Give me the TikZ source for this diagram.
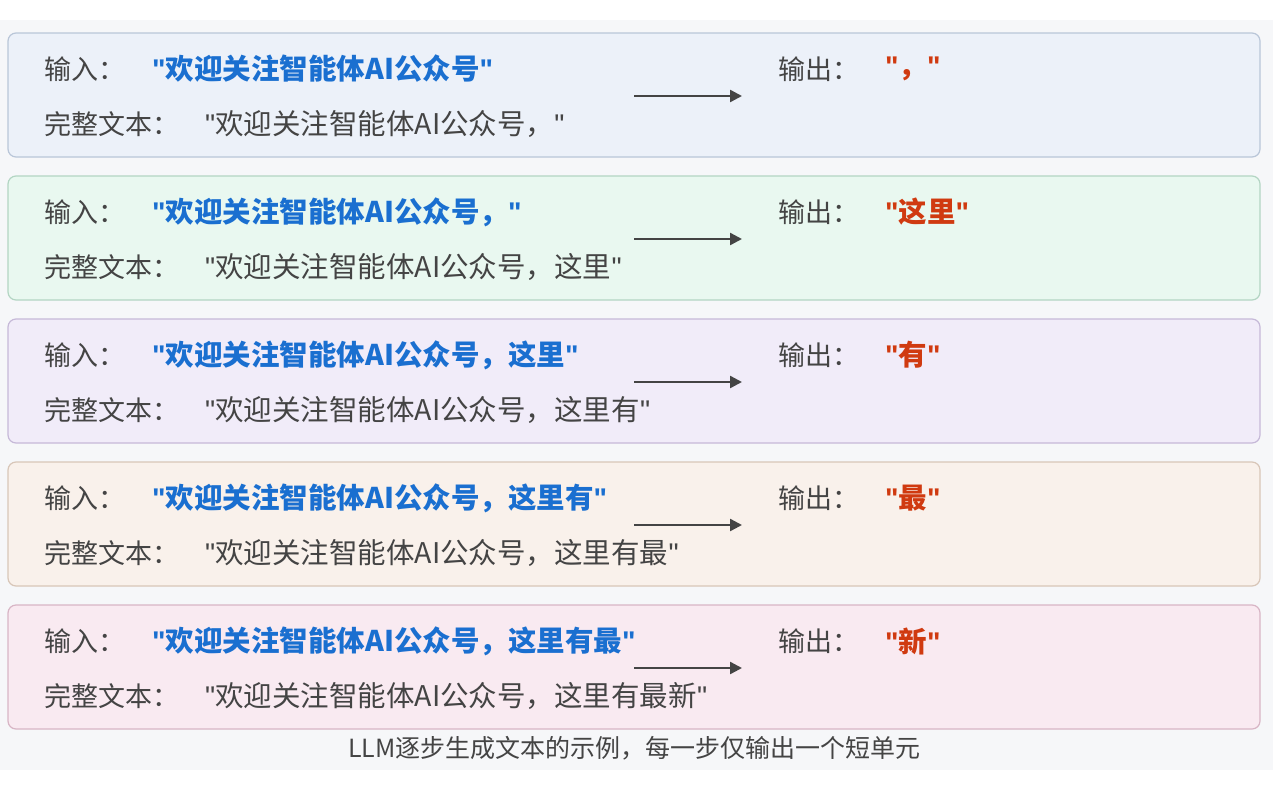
\documentclass[tikz,border=0pt]{standalone}
\usepackage{fontspec}
\setmainfont{Noto Sans CJK SC}
\newfontfamily\lat{Liberation Sans}
\newcommand{\qq}{{\lat"}}
\usetikzlibrary{arrows.meta}
\definecolor{tgray}{HTML}{444444}
\definecolor{tblue}{HTML}{1A6FD0}
\definecolor{tred}{HTML}{D03A10}
\definecolor{bgg}{HTML}{F6F7F9}
\tikzset{
  x=1pt,y=-1pt,
  box/.style={draw=#1!80!gray, line width=1.2pt, rounded corners=8pt, fill=#1!35!white},
  lab/.style={anchor=west, text=tgray, font=\fontsize{27}{29}\selectfont, inner sep=0pt},
  inval/.style={anchor=west, text=tblue, font=\fontsize{28.5}{30}\selectfont\bfseries, inner sep=0pt},
  outval/.style={anchor=west, text=tred, font=\fontsize{28.5}{30}\selectfont\bfseries, inner sep=0pt},
  full/.style={anchor=west, text=tgray, font=\fontsize{28.5}{30}\selectfont, inner sep=0pt},
  arr/.style={-{Triangle[length=12pt,width=12pt]}, line width=2.4pt, draw=tgray}
}
\definecolor{c1}{HTML}{C8D8EE}
\definecolor{c2}{HTML}{C0EAD4}
\definecolor{c3}{HTML}{D8C8EE}
\definecolor{c4}{HTML}{EED8C6}
\definecolor{c5}{HTML}{EEC2D6}
\begin{document}
\begin{tikzpicture}
\useasboundingbox (0,0) rectangle (1273,795);
\fill[white] (0,0) rectangle (1273,795);
\fill[bgg] (0,20) rectangle (1273,770);
\foreach \i/\c/\inp/\outp/\ful in {
 0/c1/{欢迎关注智能体AI公众号}/{，}/{欢迎关注智能体AI公众号，},
 1/c2/{欢迎关注智能体AI公众号，}/{这里}/{欢迎关注智能体AI公众号，这里},
 2/c3/{欢迎关注智能体AI公众号，这里}/{有}/{欢迎关注智能体AI公众号，这里有},
 3/c4/{欢迎关注智能体AI公众号，这里有}/{最}/{欢迎关注智能体AI公众号，这里有最},
 4/c5/{欢迎关注智能体AI公众号，这里有最}/{新}/{欢迎关注智能体AI公众号，这里有最新}}{
 \pgfmathsetmacro{\t}{33+143*\i}
 \draw[box=\c] (8,\t) rectangle (1260,\t+124);
 \node[lab] (in\i) at (44,\t+36) {输入：};
 \node[inval] (iv\i) at (152,\t+36) {\qq\inp\qq};
 \node[lab] (fl\i) at (44,\t+91) {完整文本：};
 \node[full] (fv\i) at (205,\t+91) {\qq\ful\qq};
 \node[lab] (ou\i) at (778,\t+36) {输出：};
 \node[outval] (ov\i) at (885,\t+36) {\qq\outp\qq};
 \coordinate (a\i) at (634,\t+63);
 \coordinate (b\i) at (742,\t+63);
 \draw[arr] (a\i) -- (b\i);
}
\node[anchor=west, text=tgray, font=\fontsize{25}{27}\selectfont, inner sep=0pt] (cap) at (348,748) {LLM逐步生成文本的示例，每一步仅输出一个短单元};
\end{tikzpicture}
\end{document}
